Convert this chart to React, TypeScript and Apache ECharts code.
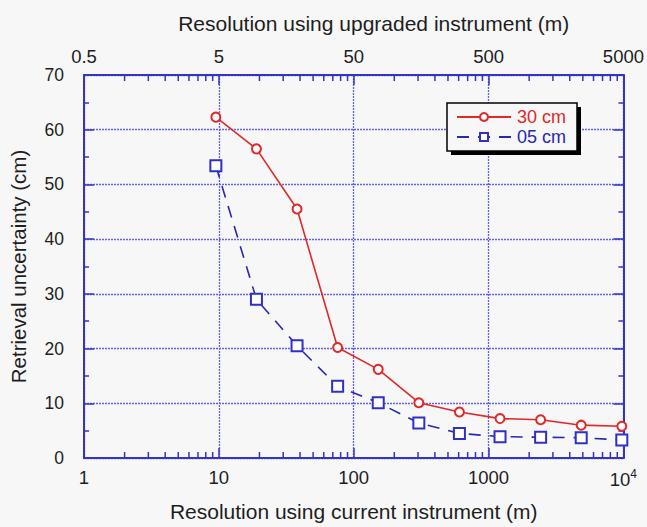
import React, { useEffect, useRef } from "react";
import * as echarts from "echarts";

const resolutionCurrent = [9.5, 19, 38, 76, 152, 304, 608, 1216, 2432, 4864, 9728];
const uncertainty30cm = [62.3, 56.5, 45.5, 20.2, 16.2, 10.1, 8.4, 7.2, 7.0, 6.0, 5.8];
const uncertainty05cm = [53.4, 29.0, 20.5, 13.1, 10.1, 6.4, 4.5, 3.9, 3.8, 3.7, 3.3];
const minorTickValues = [2, 3, 4, 5, 6, 7, 8, 9, 20, 30, 40, 50, 60, 70, 80, 90, 200, 300, 400, 500, 600, 700, 800, 900, 2000, 3000, 4000, 5000, 6000, 7000, 8000, 9000];
const seriesNames = ["30 cm", "05 cm"];

const AXIS_BLUE = "#3434c4";
const GRID_BLUE = "#6464e0";
const RED = "#e02828";
const BLUE = "#2828b0";
const FONT = "Liberation Sans, Arial, Helvetica, sans-serif";
const TEXT = "#1e1e1e";

export default function App() {
  const ref = useRef<HTMLDivElement>(null);
  useEffect(() => {
    document.body.style.margin = "0";
    const chart = echarts.init(ref.current!, null, { renderer: "svg" });
    const red = resolutionCurrent.map((x, i) => [x, uncertainty30cm[i]]);
    const blue = resolutionCurrent.map((x, i) => [x, uncertainty05cm[i]]);
    const fmt = (v: number) => {
      const r = Math.round(v);
      return r === 10000 ? "10{sup|4}" : String(r);
    };
    const option: any = {
      animation: false,
      backgroundColor: "#f7f7f7",
      textStyle: { fontFamily: FONT },
      grid: { left: 84, right: 17, top: 75, bottom: 66 },
      graphic: [
        { type: "rect", shape: { x: 451, y: 107, width: 130, height: 48 }, style: { fill: "#000" }, z: 1 },
        { type: "rect", shape: { x: 447, y: 103, width: 130, height: 48 }, style: { fill: "#f7f7f7", stroke: "#000", lineWidth: 1.5 }, z: 2 },
      ],
      legend: {
        data: [
          { name: seriesNames[0], textStyle: { color: RED } },
          { name: seriesNames[1], textStyle: { color: BLUE } },
        ],
        orient: "vertical",
        left: 456,
        top: 108,
        padding: 0,
        itemWidth: 54,
        itemHeight: 10,
        itemGap: 2,
        z: 5,
        textStyle: { fontSize: 18, fontFamily: FONT, padding: [0, 0, 0, 1] },
      },
      xAxis: [
        {
          type: "log",
          logBase: 10,
          min: 1,
          max: 10000,
          position: "bottom",
          name: "Resolution using current instrument (m)",
          nameLocation: "middle",
          nameGap: 43,
          nameTextStyle: { fontSize: 21, color: TEXT, fontFamily: FONT },
          axisLine: { onZero: false, lineStyle: { color: AXIS_BLUE, width: 2 } },
          axisTick: { inside: true, length: 10, lineStyle: { color: AXIS_BLUE, width: 1.5 } },
          axisLabel: {
            formatter: fmt,
            fontSize: 18.5,
            color: TEXT,
            fontFamily: FONT,
            margin: 10,
            showMinLabel: true,
            showMaxLabel: true,
            rich: { sup: { fontSize: 12, verticalAlign: "top", padding: [0, 0, 10, 0], color: TEXT } },
          },
          splitLine: { show: true, lineStyle: { color: GRID_BLUE, width: 1.3, type: [2, 1] } },
        },
        {
          type: "log",
          logBase: 10,
          min: 1,
          max: 10000,
          position: "top",
          name: "Resolution using upgraded instrument (m)",
          nameLocation: "middle",
          nameGap: 41,
          nameTextStyle: { fontSize: 21, color: TEXT, fontFamily: FONT, padding: [0, 0, 0, 40] },
          axisLine: { onZero: false, lineStyle: { color: AXIS_BLUE, width: 2 } },
          axisTick: { inside: true, length: 10, lineStyle: { color: AXIS_BLUE, width: 1.5 } },
          axisLabel: {
            formatter: (v: number) => String(Math.round(v * 10) / 20),
            fontSize: 18.5,
            color: TEXT,
            fontFamily: FONT,
            margin: 9,
            showMinLabel: true,
            showMaxLabel: true,
          },
          splitLine: { show: false },
        },
      ],
      yAxis: [
        {
          type: "value",
          min: 0,
          max: 70,
          interval: 10,
          position: "left",
          name: "Retrieval uncertainty (cm)",
          nameLocation: "middle",
          nameGap: 55,
          nameRotate: 90,
          nameTextStyle: { fontSize: 20.5, color: TEXT, fontFamily: FONT },
          axisLine: { show: true, onZero: false, lineStyle: { color: AXIS_BLUE, width: 2 } },
          axisTick: { show: true, inside: true, length: 10, lineStyle: { color: AXIS_BLUE, width: 1.5 } },
          minorTick: { show: true, splitNumber: 2, length: 5, lineStyle: { color: AXIS_BLUE, width: 1.5 } },
          axisLabel: { fontSize: 17.5, color: TEXT, fontFamily: FONT, margin: 20 },
          splitLine: { show: true, lineStyle: { color: GRID_BLUE, width: 1.3, type: [2, 1] } },
        },
        {
          type: "value",
          min: 0,
          max: 70,
          interval: 10,
          position: "right",
          axisLine: { show: true, onZero: false, lineStyle: { color: AXIS_BLUE, width: 2 } },
          axisTick: { show: true, inside: true, length: 10, lineStyle: { color: AXIS_BLUE, width: 1.5 } },
          minorTick: { show: true, splitNumber: 2, length: 5, lineStyle: { color: AXIS_BLUE, width: 1.5 } },
          axisLabel: { show: false },
          splitLine: { show: false },
        },
      ],
      series: [
        {
          type: "custom",
          name: "minorTicks",
          xAxisIndex: 0,
          yAxisIndex: 0,
          silent: true,
          z: 1,
          data: minorTickValues.map((v) => [v, 0]),
          renderItem: (params: any, api: any) => {
            const v = api.value(0);
            const b = api.coord([v, 0]);
            const t = api.coord([v, 70]);
            const style = { stroke: AXIS_BLUE, lineWidth: 1.5 };
            return {
              type: "group",
              children: [
                { type: "line", shape: { x1: b[0], y1: b[1], x2: b[0], y2: b[1] - 6 }, style },
                { type: "line", shape: { x1: t[0], y1: t[1], x2: t[0], y2: t[1] + 6 }, style },
              ],
            };
          },
        },
        {
          type: "line",
          name: seriesNames[0],
          data: red,
          symbol: "emptyCircle",
          symbolSize: 9,
          z: 4,
          lineStyle: { color: RED, width: 1.6 },
          itemStyle: { color: RED, borderColor: RED, borderWidth: 1.4 },
        },
        {
          type: "line",
          name: seriesNames[1],
          data: blue,
          symbol: "emptyRect",
          symbolSize: 11,
          z: 3,
          lineStyle: { color: BLUE, width: 1.6, type: [12, 9] },
          itemStyle: { color: "#3030c8", borderColor: "#3030c8", borderWidth: 1.4 },
        },
      ],
    };
    chart.setOption(option);
    return () => chart.dispose();
  }, []);
  return <div ref={ref} style={{ position: "fixed", left: 0, top: 0, width: 647, height: 527 }} />;
}
